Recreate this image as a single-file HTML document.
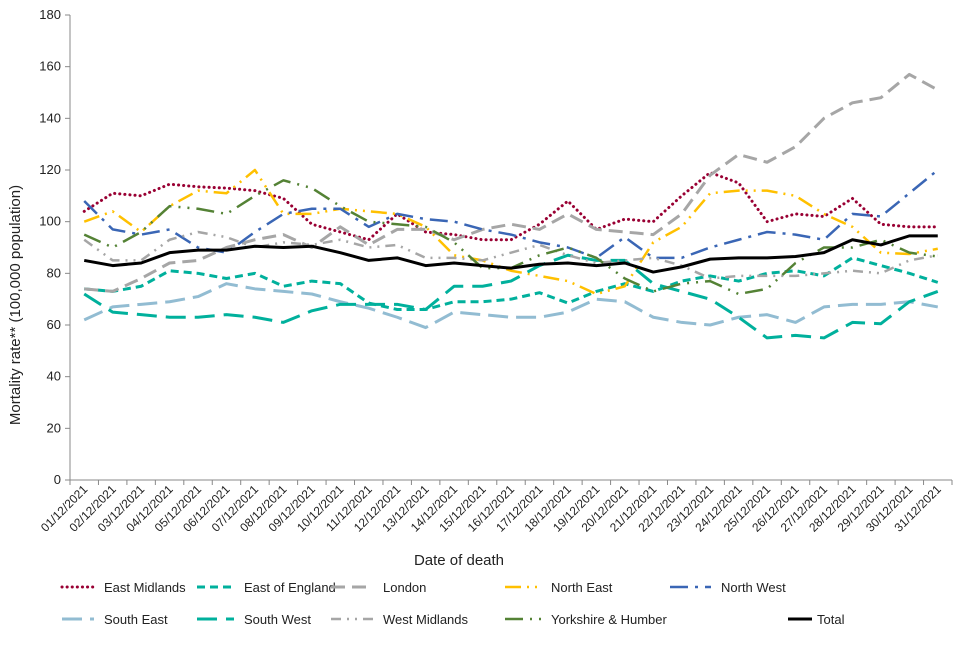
<!DOCTYPE html>
<html><head><meta charset="utf-8"><style>
body{margin:0;background:#fff;font-family:"Liberation Sans",sans-serif;}
svg text{font-family:"Liberation Sans",sans-serif;fill:#222;}
</style></head><body>
<svg id="chart" width="960" height="640"></svg>
<script>
const categories=[];for(let d=1;d<=31;d++)categories.push((d<10?'0':'')+d+'/12/2021');
const yTicks=[0,20,40,60,80,100,120,140,160,180];
const seriesNames=["East Midlands","East of England","London","North East","North West","South East","South West","West Midlands","Yorkshire & Humber","Total"];
const eastMidlands=[104,111,110,114.5,113.5,113,112,109,99,96,93,103,96,95,93,93,99,108,97,101,100,110,119,115,100,103,102,109,99,98,98];
const eastOfEngland=[74,73,75,81,80,78,80,75,77,76,68.5,66,66,69,69,70,72.5,68.5,73,76,73,77,79,77,80,81,79,86,83,80,76.5];
const london=[74,73,78,84,85,90,93,95,90,98,91,97,97,93,97,99,97,103,97,96,95,103,118,126,123,129,140,146,148,157,151];
const northEast=[100,104,96,106,112,111,120,103,103,105,104,103,98,87,85,81,79,77,72,75,92,98,111,112,112,110,103,98,88,87.5,89.5];
const northWest=[108,97,95,97,90,88,96,103,105,105,98,103,101,100,97,95,92,90,86,94,86,86,90,93,96,95,93,103,102,111,120];
const southEast=[62,67,68,69,71,76,74,73,72,69,66.5,63,59,65,64,63,63,65,70,69,63,61,60,63,64,61,67,68,68,69,67];
const southWest=[72,65,64,63,63,64,63,61,65.5,68,68,68,66,75,75,77,83,87,85,85,76,73,70,63,55,56,55,61,60.5,69,73];
const westMidlands=[93,85,85,93,96,94,90,92,91,93,90,91,86,86,85,88,91,87,84,85,86,83,78,79,79,79,80,81,80,85,87];
const yorkshire=[95,90,96,106,105,103,110,116,113,106,100,99,98,92,82,82,87,90,86,78,73,76,77,72,74,84,90,90,93,88,86.5];
const total=[85,83,84,88,89,89,90.5,90,90.5,88,85,86,83,84,83,82,83.5,84,83,84,80.5,82.5,85.5,86,86,86.5,88,93,91,94.5,94.5];
const allSeries=[eastMidlands,eastOfEngland,london,northEast,northWest,southEast,southWest,westMidlands,yorkshire,total];
const styles=[
 {c:"#990033",w:3,d:"0.1 5",cap:"round"},
 {c:"#00B09C",w:3,d:"8 5"},
 {c:"#A6A6A6",w:3,d:"14 7"},
 {c:"#FFC000",w:2.5,d:"16 6 2 6 2 6"},
 {c:"#3A66B5",w:2.5,d:"18 7 3 7"},
 {c:"#92BCD2",w:3,d:"20 8"},
 {c:"#00B09C",w:3,d:"20 9"},
 {c:"#A6A6A6",w:2.5,d:"10 6 2 6 2 6"},
 {c:"#548235",w:2.5,d:"18 7 2 7 2 7"},
 {c:"#000",w:3,d:""}];
const svg=document.getElementById('chart');const NS="http://www.w3.org/2000/svg";
const X0=70,X1=952,Y0=480,Y1=15;
const xs=i=>X0+(X1-X0)/categories.length*(i+0.5);
const ys=v=>Y0-(Y0-Y1)*v/180;
function mk(t,a,p){const e=document.createElementNS(NS,t);for(const k in a)e.setAttribute(k,a[k]);(p||svg).appendChild(e);return e;}
let e;
e=mk('line',{x1:X0,y1:Y1,x2:X0,y2:Y0,stroke:'#888'});


e=mk('line',{x1:X0,y1:Y0,x2:X1,y2:Y0,stroke:'#888'});


yTicks.forEach(v=>{mk('line',{x1:X0-5,y1:ys(v),x2:X0,y2:ys(v),stroke:'#888'});
 e=mk('text',{x:X0-9,y:ys(v)+4,'text-anchor':'end','font-size':13});e.textContent=v;
 
 });
categories.forEach((c,i)=>{const bx=X0+(X1-X0)/categories.length*i;mk('line',{x1:bx,y1:Y0,x2:bx,y2:Y0+5,stroke:'#888'});
 const x=xs(i)+4,y=Y0+10;
 e=mk('text',{x:x,y:y,'text-anchor':'end','font-size':12,transform:`rotate(-45 ${x} ${y})`});e.textContent=c;
 
 });
mk('line',{x1:X1,y1:Y0,x2:X1,y2:Y0+5,stroke:'#888'});
allSeries.forEach((s,k)=>{const st=styles[k];
 e=mk('polyline',{points:s.map((v,i)=>xs(i)+','+ys(v)).join(' '),fill:'none',stroke:st.c,'stroke-width':st.w,'stroke-dasharray':st.d,'stroke-linecap':st.cap||'butt','stroke-linejoin':'round'});
 
 });
e=mk('text',{x:459,y:565,'text-anchor':'middle','font-size':15});e.textContent='Date of death';


e=mk('text',{x:20,y:305,'text-anchor':'middle','font-size':15,transform:'rotate(-90 20 305)'});e.textContent='Mortality rate** (100,000 population)';


const legLine=[62,197,331,505,670];
const legText=[104,244,383,551,721];
seriesNames.forEach((n,k)=>{const r=Math.floor(k/5),c=k%5;let lx=legLine[c],tx=legText[c],ly=587+r*32;let len=tx-lx-10;
 if(k==9){lx=788;tx=817;len=24;}
 const st=styles[k];
 const g=mk('g',{});
 
 
 mk('line',{x1:lx,y1:ly,x2:lx+len,y2:ly,stroke:st.c,'stroke-width':st.w,'stroke-dasharray':st.d,'stroke-linecap':st.cap||'butt'},g);
 const t=mk('text',{x:tx,y:ly+5,'font-size':13},g);t.textContent=n;});
</script>
</body></html>
